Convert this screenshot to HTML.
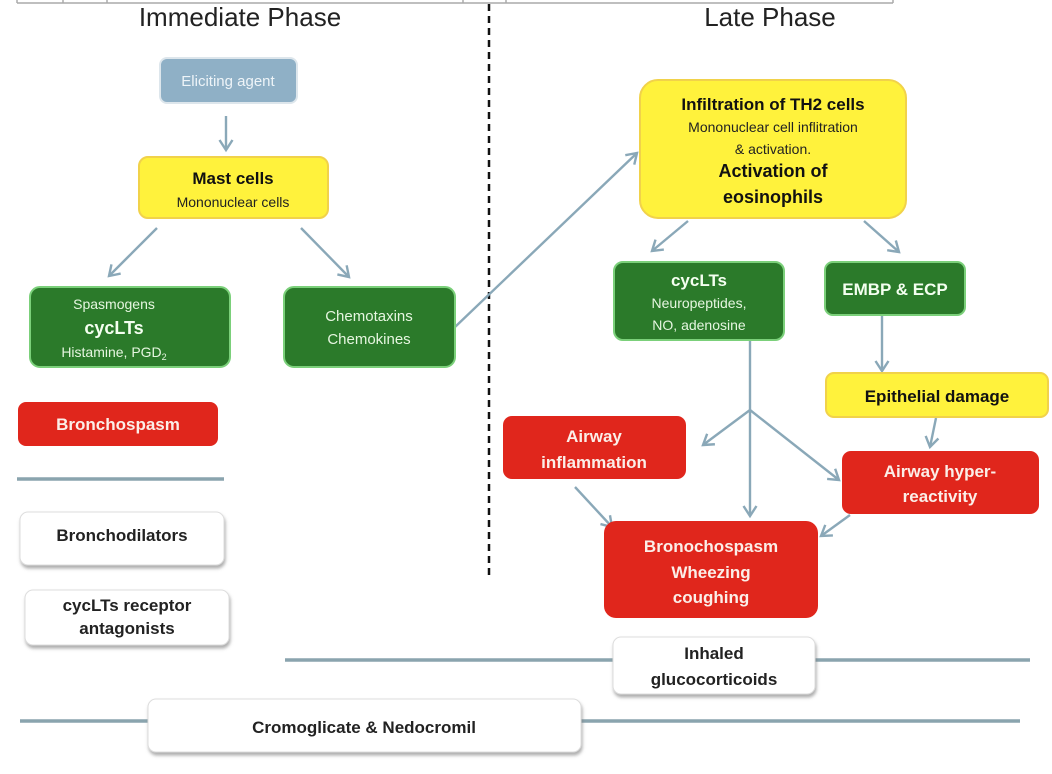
<!DOCTYPE html>
<html><head><meta charset="utf-8"><style>
body{margin:0;background:#fff;}
svg{display:block;font-family:"Liberation Sans",Arial,sans-serif;}
</style></head><body>
<svg width="1052" height="774" viewBox="0 0 1052 774" xmlns="http://www.w3.org/2000/svg">
<defs>
<marker id="a" markerWidth="16" markerHeight="16" refX="11" refY="8" orient="auto" markerUnits="userSpaceOnUse">
<path d="M1,1.5 L11,8 L1,14.5" fill="none" stroke="#8aa8b8" stroke-width="2.4"/>
</marker>
<filter id="sh" x="-10%" y="-10%" width="120%" height="130%"><feDropShadow dx="1" dy="3" stdDeviation="1.5" flood-color="#777" flood-opacity="0.6"/></filter>
</defs>
<g stroke="#aaa" stroke-width="1.5" fill="none">
<line x1="17" y1="3" x2="893" y2="3"/>
<line x1="17" y1="0" x2="17" y2="3"/><line x1="63" y1="0" x2="63" y2="3"/><line x1="107" y1="0" x2="107" y2="3"/><line x1="463" y1="0" x2="463" y2="3"/><line x1="506" y1="0" x2="506" y2="3"/><line x1="893" y1="0" x2="893" y2="3"/>
</g>
<line x1="489" y1="4" x2="489" y2="578" stroke="#111" stroke-width="2.5" stroke-dasharray="7,5"/>
<text x="240" y="26" font-size="26" text-anchor="middle" fill="#222">Immediate Phase</text>
<text x="770" y="26" font-size="26" text-anchor="middle" fill="#222">Late Phase</text>

<g stroke="#8aa4ae" stroke-width="3.5">
<line x1="17" y1="479" x2="224" y2="479"/>
<line x1="285" y1="660" x2="1030" y2="660"/>
<line x1="20" y1="721" x2="1020" y2="721"/>
</g>

<g stroke="#8aa8b8" stroke-width="2.4" fill="none" marker-end="url(#a)">
<line x1="226" y1="116" x2="226" y2="150"/>
<line x1="157" y1="228" x2="109" y2="276"/>
<line x1="301" y1="228" x2="349" y2="277"/>
<line x1="455" y1="327" x2="637" y2="153"/>
<line x1="688" y1="221" x2="652" y2="251"/>
<line x1="864" y1="221" x2="899" y2="252"/>
<line x1="882" y1="316" x2="882" y2="371"/>
<line x1="936" y1="418" x2="930" y2="447"/>
<line x1="750" y1="410" x2="703" y2="445"/>
<line x1="750" y1="410" x2="750" y2="516"/>
<line x1="750" y1="410" x2="839" y2="480"/>
<line x1="575" y1="487" x2="612" y2="527"/>
<line x1="850" y1="515" x2="821" y2="536"/>
</g>
<line x1="750" y1="340" x2="750" y2="410" stroke="#8aa8b8" stroke-width="2.4"/>

<rect x="160" y="58" width="137" height="45" rx="7" fill="#8fb0c6" stroke="#dde6ec" stroke-width="2"/>
<text x="228" y="86" font-size="15" fill="#eef4f8" text-anchor="middle">Eliciting agent</text>

<rect x="139" y="157" width="189" height="61" rx="9" fill="#fff23c" stroke="#f1d24a" stroke-width="2"/>
<text x="233" y="184" font-size="17" font-weight="bold" text-anchor="middle" fill="#111">Mast cells</text>
<text x="233" y="207" font-size="14" text-anchor="middle" fill="#222">Mononuclear cells</text>

<rect x="30" y="287" width="200" height="80" rx="10" fill="#2b7a2a" stroke="#7bd07a" stroke-width="2"/>
<text x="114" y="309" font-size="14" text-anchor="middle" fill="#e6f6e0">Spasmogens</text>
<text x="114" y="334" font-size="18" font-weight="bold" text-anchor="middle" fill="#f4fff0">cycLTs</text>
<text x="114" y="357" font-size="14" text-anchor="middle" fill="#e6f6e0">Histamine, PGD<tspan font-size="9" dy="3">2</tspan></text>

<rect x="284" y="287" width="171" height="80" rx="10" fill="#2b7a2a" stroke="#7bd07a" stroke-width="2"/>
<text x="369" y="321" font-size="15" text-anchor="middle" fill="#e6f6e0">Chemotaxins</text>
<text x="369" y="344" font-size="15" text-anchor="middle" fill="#e6f6e0">Chemokines</text>

<rect x="18" y="402" width="200" height="44" rx="8" fill="#e0261c"/>
<text x="118" y="430" font-size="17" font-weight="bold" text-anchor="middle" fill="#fbeee8">Bronchospasm</text>

<rect x="20" y="512" width="204" height="53" rx="8" fill="#fff" stroke="#ddd" filter="url(#sh)"/>
<text x="122" y="541" font-size="17" font-weight="bold" text-anchor="middle" fill="#222">Bronchodilators</text>
<rect x="25" y="590" width="204" height="55" rx="8" fill="#fff" stroke="#ddd" filter="url(#sh)"/>
<text x="127" y="611" font-size="17" font-weight="bold" text-anchor="middle" fill="#222">cycLTs receptor</text>
<text x="127" y="634" font-size="17" font-weight="bold" text-anchor="middle" fill="#222">antagonists</text>

<rect x="613" y="637" width="202" height="57" rx="8" fill="#fff" stroke="#ddd" filter="url(#sh)"/>
<text x="714" y="659" font-size="17" font-weight="bold" text-anchor="middle" fill="#222">Inhaled</text>
<text x="714" y="685" font-size="17" font-weight="bold" text-anchor="middle" fill="#222">glucocorticoids</text>

<rect x="148" y="699" width="433" height="53" rx="8" fill="#fff" stroke="#ddd" filter="url(#sh)"/>
<text x="364" y="733" font-size="17" font-weight="bold" text-anchor="middle" fill="#222">Cromoglicate &amp; Nedocromil</text>

<rect x="640" y="80" width="266" height="138" rx="18" fill="#fff23c" stroke="#f1d24a" stroke-width="2"/>
<text x="773" y="110" font-size="17" font-weight="bold" text-anchor="middle" fill="#111">Infiltration of TH2 cells</text>
<text x="773" y="132" font-size="14" text-anchor="middle" fill="#222">Mononuclear cell inflitration</text>
<text x="773" y="154" font-size="14" text-anchor="middle" fill="#222">&amp; activation.</text>
<text x="773" y="177" font-size="18" font-weight="bold" text-anchor="middle" fill="#111">Activation of</text>
<text x="773" y="203" font-size="18" font-weight="bold" text-anchor="middle" fill="#111">eosinophils</text>

<rect x="614" y="262" width="170" height="78" rx="9" fill="#2b7a2a" stroke="#7bd07a" stroke-width="2"/>
<text x="699" y="286" font-size="17" font-weight="bold" text-anchor="middle" fill="#f4fff0">cycLTs</text>
<text x="699" y="308" font-size="14" text-anchor="middle" fill="#e6f6e0">Neuropeptides,</text>
<text x="699" y="330" font-size="14" text-anchor="middle" fill="#e6f6e0">NO, adenosine</text>

<rect x="825" y="262" width="140" height="53" rx="8" fill="#2b7a2a" stroke="#7bd07a" stroke-width="2"/>
<text x="895" y="295" font-size="17" font-weight="bold" text-anchor="middle" fill="#f4fff0">EMBP &amp; ECP</text>

<rect x="826" y="373" width="222" height="44" rx="8" fill="#fff23c" stroke="#f1d24a" stroke-width="2"/>
<text x="937" y="402" font-size="17" font-weight="bold" text-anchor="middle" fill="#111">Epithelial damage</text>

<rect x="503" y="416" width="183" height="63" rx="9" fill="#e0261c"/>
<text x="594" y="442" font-size="17" font-weight="bold" text-anchor="middle" fill="#fbeee8">Airway</text>
<text x="594" y="468" font-size="17" font-weight="bold" text-anchor="middle" fill="#fbeee8">inflammation</text>

<rect x="842" y="451" width="197" height="63" rx="9" fill="#e0261c"/>
<text x="940" y="477" font-size="17" font-weight="bold" text-anchor="middle" fill="#fbeee8">Airway hyper-</text>
<text x="940" y="502" font-size="17" font-weight="bold" text-anchor="middle" fill="#fbeee8">reactivity</text>

<rect x="604" y="521" width="214" height="97" rx="12" fill="#e0261c"/>
<text x="711" y="552" font-size="17" font-weight="bold" text-anchor="middle" fill="#fbeee8">Bronochospasm</text>
<text x="711" y="578" font-size="17" font-weight="bold" text-anchor="middle" fill="#fbeee8">Wheezing</text>
<text x="711" y="603" font-size="17" font-weight="bold" text-anchor="middle" fill="#fbeee8">coughing</text>
</svg>
</body></html>
